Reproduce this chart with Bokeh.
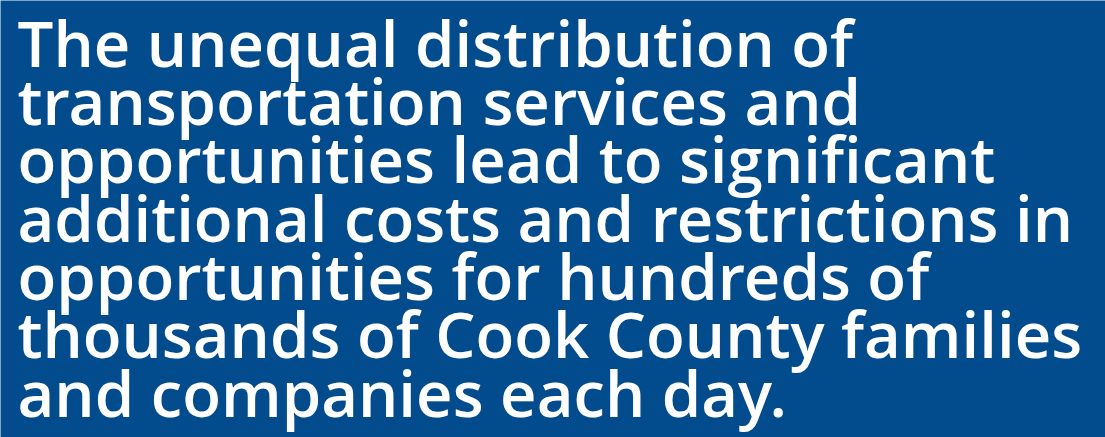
from bokeh.plotting import figure
from bokeh.models import Range1d, ColumnDataSource
from bokeh.core.properties import value
from bokeh.embed import file_html
from bokeh.resources import INLINE

lines = [
    "The unequal distribution of",
    "transportation services and",
    "opportunities lead to significant",
    "additional costs and restrictions in",
    "opportunities for hundreds of",
    "thousands of Cook County families",
    "and companies each day.",
]

W, H = 1105, 437
BG = "#024c8e"

p = figure(width=W, height=H, output_backend="svg", toolbar_location=None,
           x_range=Range1d(0, W), y_range=Range1d(H, 0), min_border=0)
p.axis.visible = False
p.grid.visible = False
p.outline_line_color = None
p.background_fill_color = BG
p.border_fill_color = BG

n = len(lines)
src = ColumnDataSource(dict(
    x=[17] * n,
    y=[41.5 + 58.35 * i for i in range(n)],
    t=lines,
))
p.text(x="x", y="y", text="t", source=src, text_color="white",
       text_font=value("Open Sans SemiBold, Open Sans"), text_font_style="normal",
       text_font_size="63.5px", text_baseline="alphabetic", text_align="left")

open("out.html", "w").write(file_html(p, INLINE))
